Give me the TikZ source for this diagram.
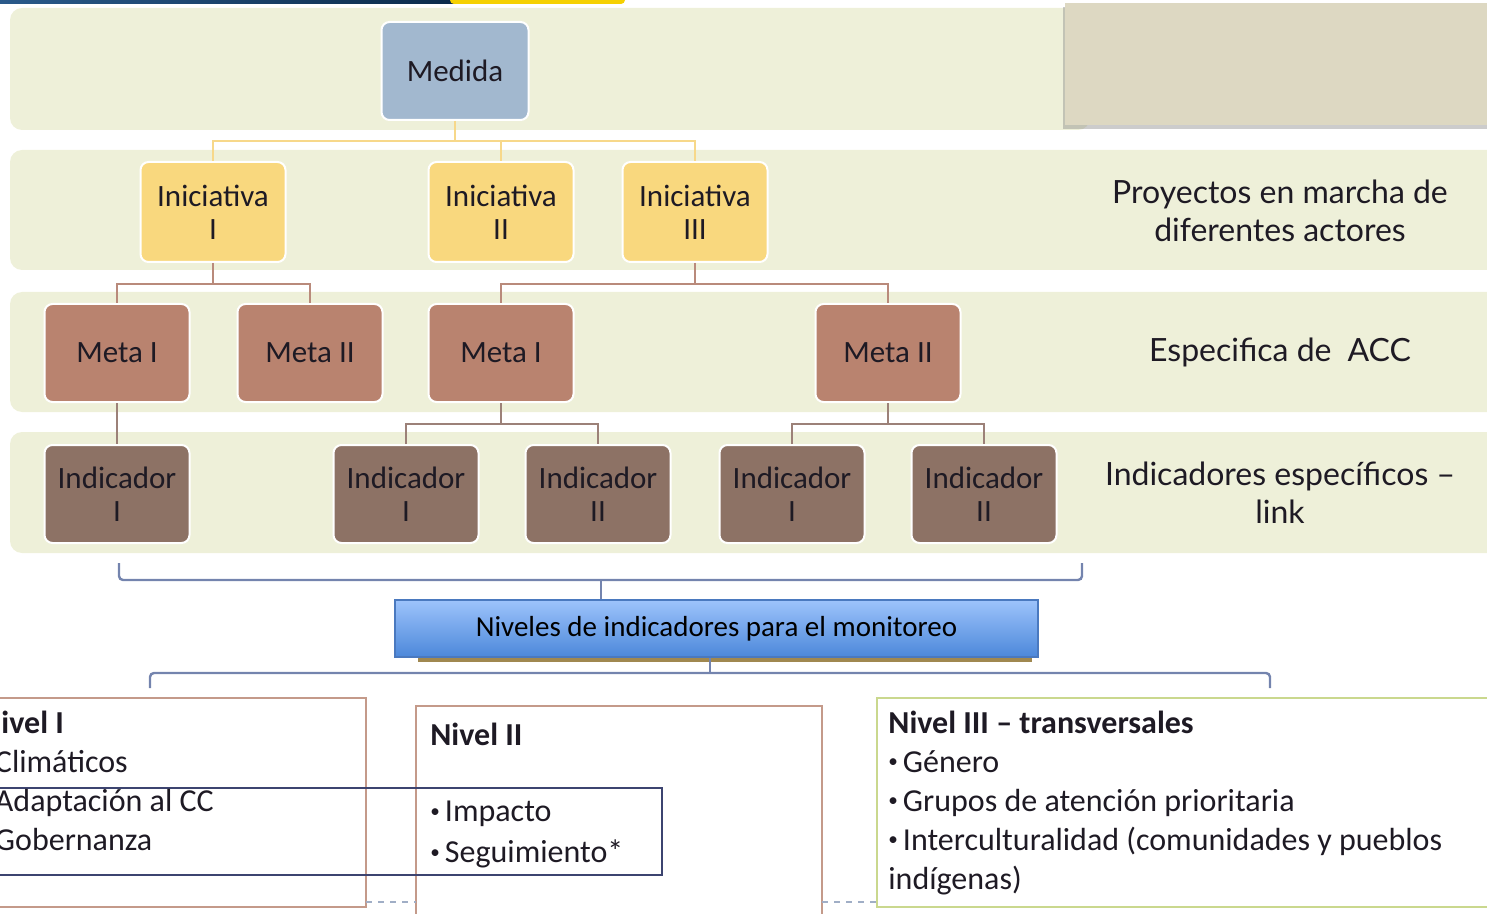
\documentclass[tikz,border=0pt]{standalone}
\usepackage{fontspec}
\usepackage{graphicx}
\setmainfont{Carlito}
\newfontfamily\latofont{Lato}
\usetikzlibrary{calc,shadows}
\newcommand\blt{\raisebox{0.32ex}{\scalebox{0.6}{•}}\hspace{2.5pt}}

\definecolor{bandcol}{HTML}{EEF0D9}
\definecolor{graycol}{HTML}{DDD8C2}
\definecolor{medcol}{HTML}{A2B8CF}
\definecolor{inicol}{HTML}{F9D87E}
\definecolor{metacol}{HTML}{B9836F}
\definecolor{indcol}{HTML}{8D7265}
\definecolor{ylinkcol}{HTML}{F7D88A}
\definecolor{mlinkcol}{HTML}{B98A7B}
\definecolor{ilinkcol}{HTML}{9C8178}
\definecolor{blinkcol}{HTML}{7484AE}
\definecolor{nivtop}{HTML}{9DC3FB}
\definecolor{nivbot}{HTML}{4C88DA}
\definecolor{nivborder}{HTML}{4A79BF}
\definecolor{nivshadow}{HTML}{A08850}
\definecolor{nivIcol}{HTML}{C49A8A}
\definecolor{navycol}{HTML}{3C4470}
\definecolor{nivIIIcol}{HTML}{CAD88E}
\definecolor{dashcol}{HTML}{A0AEC6}
\definecolor{barblue}{HTML}{2A5A8A}
\definecolor{barnavy}{HTML}{0B2A4A}
\definecolor{baryellow}{HTML}{F5D000}
\definecolor{inkcol}{HTML}{1E1A24}

\tikzset{
  box/.style={draw=white, line width=1pt, rounded corners=4pt, minimum width=72.5pt,
    minimum height=49pt, align=center, text=inkcol, inner sep=1pt,
    font=\fontsize{15.5}{16.5}\selectfont},
  medbox/.style={box, fill=medcol, minimum width=73.5pt},
  inibox/.style={box, fill=inicol, minimum height=50pt},
  metabox/.style={box, fill=metacol},
  indbox/.style={box, fill=indcol},
  band/.style={fill=bandcol, rounded corners=6pt},
  ylink/.style={draw=ylinkcol, line width=1.3pt},
  mlink/.style={draw=mlinkcol, line width=1.3pt},
  ilink/.style={draw=ilinkcol, line width=1.3pt},
  blink/.style={draw=blinkcol, line width=1.2pt, rounded corners=2pt},
  sidelabel/.style={font=\latofont\fontsize{16}{19}\selectfont, align=center, text=inkcol},
  niveltext/.style={font=\fontsize{16}{19.5}\selectfont, align=left, anchor=north west,
    inner sep=0pt, text=inkcol},
}

\begin{document}
\begin{tikzpicture}[x=0.5pt, y=-0.5pt]
  %%%%% START %%%%%
  \useasboundingbox (0,0) rectangle (1487,914);
  \clip (0,0) rectangle (1487,914);

  % top bar
  \fill[left color=barblue, right color=barnavy] (0,0) rectangle (460,4);
  \fill[baryellow, rounded corners=2pt] (450,-4) rectangle (625,4);

  % bands
  \fill[band] (10,8) rectangle (1090,130);
  \fill[band] (10,150) rectangle (1510,270);
  \fill[band] (10,292) rectangle (1510,412);
  \fill[band] (10,432) rectangle (1510,553);
  \path[fill=graycol, drop shadow={shadow xshift=-1pt, shadow yshift=-2pt, opacity=.4}]
    (1065,3) rectangle (1510,125);

  % tree
  \node[medbox] (med) at (455,71) {Medida};

  \node[inibox] (ini1) at (213,212) {Iniciativa\\I};
  \node[inibox] (ini2) at (501,212) {Iniciativa\\II};
  \node[inibox] (ini3) at (695,212) {Iniciativa\\III};

  \node[metabox] (metaA) at (117,353) {Meta I};
  \node[metabox] (metaB) at (310,353) {Meta II};
  \node[metabox] (metaC) at (501,353) {Meta I};
  \node[metabox] (metaD) at (888,353) {Meta II};

  \node[indbox] (indA) at (117,494) {Indicador\\I};
  \node[indbox] (indB) at (406,494) {Indicador\\I};
  \node[indbox] (indC) at (598,494) {Indicador\\II};
  \node[indbox] (indD) at (792,494) {Indicador\\I};
  \node[indbox] (indE) at (984,494) {Indicador\\II};

  \draw[ylink] (med.south) -- ++(0,20) coordinate (medj);
  \draw[ylink] (ini1.north) |- (medj) -| (ini3.north);
  \draw[ylink] (ini2.north) -- (ini2.north |- medj);

  \draw[mlink] (ini1.south) -- ++(0,21) coordinate (ini1j);
  \draw[mlink] (metaA.north) |- (ini1j) -| (metaB.north);
  \draw[mlink] (ini3.south) -- ++(0,21) coordinate (ini3j);
  \draw[mlink] (metaC.north) |- (ini3j) -| (metaD.north);

  \draw[ilink] (metaA.south) -- (indA.north);
  \draw[ilink] (metaC.south) -- ++(0,21) coordinate (metaCj);
  \draw[ilink] (indB.north) |- (metaCj) -| (indC.north);
  \draw[ilink] (metaD.south) -- ++(0,21) coordinate (metaDj);
  \draw[ilink] (indD.north) |- (metaDj) -| (indE.north);

  % side labels
  \node[sidelabel] (lab1) at (1280,211) {Proyectos en marcha de\\diferentes actores};
  \node[sidelabel] (lab2) at (1280,352) {Especifica de\enspace ACC};
  \node[sidelabel] (lab3) at (1280,493) {Indicadores específicos –\\link};

  % monitoring levels
  \fill[nivshadow] (418,612) rectangle (1032,662);
  \node[draw=nivborder, line width=0.8pt, top color=nivtop, bottom color=nivbot,
    minimum width=321.5pt, minimum height=28.5pt, text=black,
    font=\fontsize{14.5}{16}\selectfont] (niv) at (716.5,628.5)
    {Niveles de indicadores para el monitoreo};

  \coordinate (brL) at (119,563);
  \coordinate (brR) at (1082,563);
  \coordinate (brM) at (601,580);
  \draw[blink] (brL) -- ++(0,17) -| (brR);
  \draw[blink] (brM) -- (brM |- niv.north);

  \coordinate (lowL) at (150,688);
  \coordinate (lowR) at (1270,688);
  \coordinate (lowM) at (710,673);
  \draw[blink] (lowM |- niv.south) -- (lowM);
  \draw[blink] (lowL) |- (lowM) -| (lowR);

  % level boxes
  \draw[nivIcol, line width=1.2pt] (-30,698) rectangle (366,907);
  \draw[nivIcol, line width=1.2pt] (416,706) rectangle (822,940);
  \draw[nivIIIcol, line width=1.2pt] (877,698) rectangle (1510,907);
  \draw[navycol, line width=1.2pt] (-30,788) rectangle (662,875);
  \draw[dashcol, dashed, line width=1pt] (366,902) -- (416,902);
  \draw[dashcol, dashed, line width=1pt] (822,902) -- (877,902);

  \node[niveltext] (txtI) at (-20,711)
    {\textbf{Nivel I}\\\blt Climáticos\\\blt Adaptación al CC\\\blt Gobernanza};
  \node[niveltext] (txtII) at (430,723) {\textbf{Nivel II}};
  \node[niveltext, font=\fontsize{16}{20.5}\selectfont] (txtIIb) at (430,801)
    {\blt Impacto\\\blt Seguimiento*};
  \node[niveltext] (txtIII) at (888,711)
    {\textbf{Nivel III – transversales}\\\blt Género\\\blt Grupos de atención prioritaria\\
     \blt Interculturalidad (comunidades y pueblos\\indígenas)};
  %%%%% END %%%%%
\end{tikzpicture}
\end{document}
